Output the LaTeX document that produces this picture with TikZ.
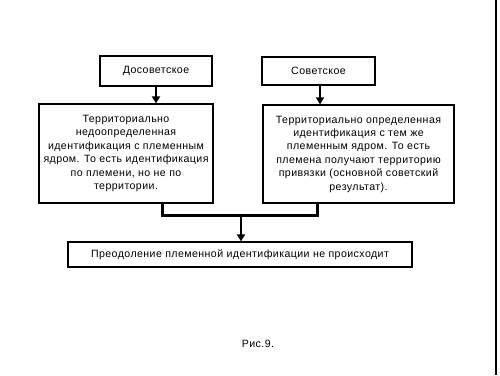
\documentclass[tikz,border=0pt]{standalone}
\usepackage{fontspec}
\setmainfont{Liberation Sans}[LetterSpace=4]
\usetikzlibrary{arrows.meta}
\begin{document}
\begin{tikzpicture}[x=1pt,y=-1pt,
  box/.style={draw=black,line width=1.2pt,rectangle,align=center,inner sep=0pt,
    font=\fontsize{10.6}{13.4}\selectfont},
  arr/.style={line width=2pt,-{Triangle[length=7pt,width=8pt]}},
  link/.style={line width=3pt}]
\useasboundingbox (0,0) rectangle (500,375);
\fill[white] (0,0) rectangle (500,375);
\node[box,minimum width=112pt,minimum height=30pt] (dos) at (156,71) {Досоветское};
\node[box,minimum width=113pt,minimum height=28pt] (sov) at (318.5,71) {Советское};
\node[box,minimum width=174pt,minimum height=99pt] (left) at (126,153.5)
  {Территориально\\недоопределенная\\идентификация с племенным\\ядром. То есть идентификация\\по племени, но не по\\территории.};
\node[box,minimum width=191pt,minimum height=98pt] (right) at (358.5,154)
  {Территориально определенная\\идентификация с тем же\\племенным ядром. То есть\\племена получают территорию\\привязки (основной советский\\результат).};
\node[box,minimum width=344pt,minimum height=25pt] (bot) at (240,254.5)
  {Преодоление племенной идентификации не происходит};
\node[font=\fontsize{10.6}{12}\selectfont] (cap) at (258,344) {Рис.9.};
\coordinate (lt) at ([xshift=36pt]left.south);
\coordinate (rt) at ([xshift=-41.5pt]right.south);
\coordinate (j) at (241,215);
\draw[arr] (dos.south) -- (dos.south |- left.north);
\draw[arr] ([xshift=1.5pt]sov.south) -- ([xshift=1.5pt]sov.south |- right.north);
\draw[link,line join=miter] (lt) |- (j) -| (rt);
\draw[arr] (j) -- (j |- bot.north);
\draw[line width=1.5pt] (496,0) -- (496,375);
\end{tikzpicture}
\end{document}
